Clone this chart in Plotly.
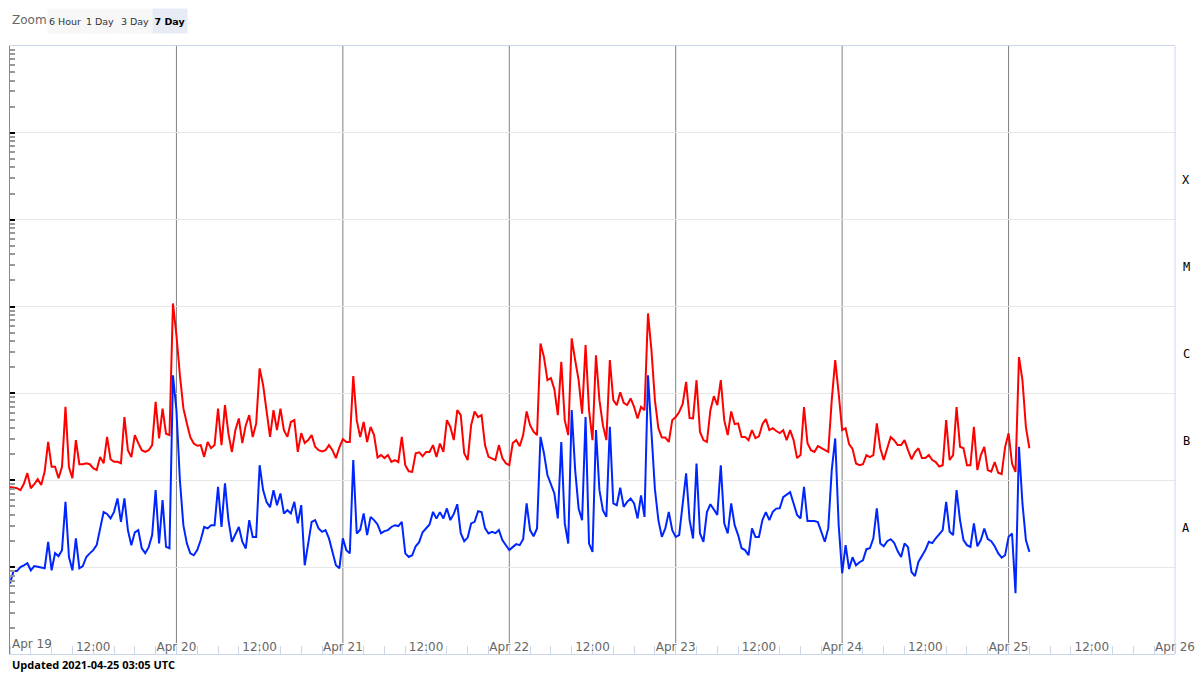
import math
import pandas as pd
import plotly.graph_objects as go

# ---------------- data ----------------
start_time = "2021-04-19 00:00"
cadence = "30min"

# GOES long channel 0.1-0.8 nm (W/m^2)
long_flux = [
    8.4e-8, 8.3e-8, 8.1e-8, 7.7e-8, 9.1e-8, 1.21e-7, 8.1e-8, 9.0e-8, 1.03e-7, 8.8e-8,
    1.26e-7, 2.77e-7, 1.43e-7, 1.43e-7, 1.06e-7, 1.43e-7, 7.01e-7, 1.42e-7, 1.06e-7, 2.90e-7,
    1.53e-7, 1.53e-7, 1.57e-7, 1.53e-7, 1.38e-7, 1.31e-7, 1.86e-7, 1.57e-7, 3.16e-7, 1.75e-7,
    1.63e-7, 1.63e-7, 1.57e-7, 5.34e-7, 2.22e-7, 1.85e-7, 3.31e-7, 2.68e-7, 2.22e-7, 2.12e-7,
    2.22e-7, 2.54e-7, 7.99e-7, 3.03e-7, 6.70e-7, 3.44e-7, 3.31e-7, 1.086e-5, 4.69e-6, 1.62e-6,
    6.77e-7, 4.53e-7, 3.14e-7, 2.65e-7, 2.50e-7, 2.54e-7, 1.86e-7, 2.76e-7, 2.34e-7, 2.54e-7,
    6.70e-7, 2.54e-7, 7.33e-7, 3.44e-7, 2.12e-7, 3.78e-7, 5.15e-7, 2.68e-7, 4.31e-7, 5.62e-7,
    3.14e-7, 4.52e-7, 1.94e-6, 1.25e-6, 6.42e-7, 3.16e-7, 6.42e-7, 3.78e-7, 6.70e-7, 3.78e-7,
    3.16e-7, 4.69e-7, 4.92e-7, 2.12e-7, 3.49e-7, 2.68e-7, 2.90e-7, 3.31e-7, 2.43e-7, 2.22e-7,
    2.15e-7, 2.22e-7, 2.54e-7, 2.22e-7, 1.80e-7, 2.40e-7, 2.98e-7, 2.76e-7, 2.76e-7, 1.58e-6,
    4.92e-7, 3.14e-7, 4.69e-7, 2.76e-7, 4.12e-7, 3.31e-7, 1.83e-7, 1.95e-7, 1.80e-7, 1.95e-7,
    1.63e-7, 1.71e-7, 1.62e-7, 3.16e-7, 1.49e-7, 1.27e-7, 1.25e-7, 2.05e-7, 2.10e-7, 1.89e-7,
    2.12e-7, 2.12e-7, 2.54e-7, 1.86e-7, 2.65e-7, 2.12e-7, 4.92e-7, 4.12e-7, 2.90e-7, 6.42e-7,
    5.62e-7, 2.05e-7, 1.71e-7, 4.31e-7, 6.20e-7, 5.34e-7, 5.62e-7, 2.54e-7, 1.86e-7, 1.80e-7,
    1.71e-7, 2.54e-7, 1.80e-7, 1.57e-7, 1.49e-7, 2.68e-7, 2.90e-7, 2.47e-7, 3.31e-7, 6.20e-7,
    4.31e-7, 3.63e-7, 3.31e-7, 3.76e-6, 2.62e-6, 1.42e-6, 1.50e-6, 1.12e-6, 5.62e-7, 2.31e-6,
    4.92e-7, 3.31e-7, 4.30e-6, 2.42e-6, 1.42e-6, 5.86e-7, 3.60e-6, 6.42e-7, 2.90e-7, 2.75e-6,
    8.37e-7, 4.31e-7, 2.90e-7, 2.42e-6, 8.37e-7, 7.33e-7, 1.03e-6, 7.80e-7, 7.33e-7, 8.76e-7,
    7.00e-7, 5.15e-7, 7.00e-7, 6.42e-7, 8.34e-6, 3.15e-6, 8.37e-7, 3.98e-7, 3.10e-7, 3.10e-7,
    2.76e-7, 4.92e-7, 5.34e-7, 6.10e-7, 7.57e-7, 1.36e-6, 5.20e-7, 5.15e-7, 1.42e-6, 3.60e-7,
    2.90e-7, 2.76e-7, 6.42e-7, 9.30e-7, 7.33e-7, 1.42e-6, 4.92e-7, 3.31e-7, 6.20e-7, 4.43e-7,
    4.52e-7, 3.16e-7, 3.16e-7, 2.90e-7, 3.78e-7, 3.06e-7, 3.20e-7, 4.43e-7, 5.06e-7, 3.78e-7,
    3.98e-7, 3.69e-7, 3.49e-7, 3.78e-7, 2.90e-7, 3.78e-7, 2.90e-7, 1.80e-7, 1.95e-7, 6.95e-7,
    2.68e-7, 2.22e-7, 2.12e-7, 2.47e-7, 2.33e-7, 2.22e-7, 2.12e-7, 8.37e-7, 2.42e-6, 9.98e-7,
    3.78e-7, 3.98e-7, 2.61e-7, 2.30e-7, 1.56e-7, 1.49e-7, 1.53e-7, 1.95e-7, 1.85e-7, 1.95e-7,
    4.52e-7, 2.34e-7, 1.71e-7, 2.34e-7, 3.14e-7, 2.90e-7, 2.54e-7, 2.54e-7, 2.90e-7, 2.22e-7,
    1.75e-7, 2.10e-7, 2.34e-7, 1.80e-7, 1.80e-7, 1.95e-7, 1.71e-7, 1.62e-7, 1.44e-7, 1.49e-7,
    4.92e-7, 1.71e-7, 1.95e-7, 6.95e-7, 2.43e-7, 2.34e-7, 1.49e-7, 1.49e-7, 4.12e-7, 1.31e-7,
    1.95e-7, 2.43e-7, 1.31e-7, 1.26e-7, 1.62e-7, 1.22e-7, 1.18e-7, 2.41e-7, 3.47e-7, 1.56e-7,
    1.25e-7, 2.62e-6, 1.42e-6, 4.08e-7, 2.34e-7,
]

# GOES short channel 0.05-0.4 nm (W/m^2)
short_flux = [
    6.5e-9, 9.0e-9, 9.0e-9, 1.00e-8, 1.05e-8, 1.11e-8, 9.2e-9, 1.03e-8, 1.01e-8, 9.9e-9,
    9.7e-9, 1.96e-8, 9.2e-9, 1.45e-8, 1.34e-8, 1.57e-8, 5.65e-8, 1.31e-8, 9.2e-9, 2.14e-8,
    9.7e-9, 1.03e-8, 1.31e-8, 1.44e-8, 1.57e-8, 1.79e-8, 2.79e-8, 4.30e-8, 4.10e-8, 3.64e-8,
    4.33e-8, 6.18e-8, 3.32e-8, 6.18e-8, 2.67e-8, 1.79e-8, 2.52e-8, 2.67e-8, 1.65e-8, 1.45e-8,
    1.70e-8, 2.34e-8, 7.70e-8, 1.87e-8, 5.90e-8, 1.71e-8, 1.65e-8, 1.62e-6, 6.40e-7, 1.00e-7,
    3.04e-8, 1.88e-8, 1.44e-8, 1.37e-8, 1.57e-8, 2.05e-8, 2.90e-8, 2.79e-8, 3.04e-8, 3.04e-8,
    8.40e-8, 2.91e-8, 9.20e-8, 3.48e-8, 1.96e-8, 2.34e-8, 2.90e-8, 1.96e-8, 1.64e-8, 3.48e-8,
    2.23e-8, 2.23e-8, 1.49e-7, 7.70e-8, 5.60e-8, 4.90e-8, 7.70e-8, 5.17e-8, 7.06e-8, 4.15e-8,
    4.53e-8, 4.15e-8, 5.65e-8, 3.19e-8, 5.17e-8, 1.05e-8, 1.87e-8, 3.32e-8, 3.48e-8, 2.79e-8,
    2.55e-8, 2.67e-8, 2.14e-8, 1.44e-8, 1.05e-8, 9.7e-9, 2.15e-8, 1.57e-8, 1.44e-8, 1.71e-7,
    2.44e-8, 2.70e-8, 4.15e-8, 2.34e-8, 3.79e-8, 3.48e-8, 3.10e-8, 2.46e-8, 2.60e-8, 2.67e-8,
    2.90e-8, 3.04e-8, 2.97e-8, 3.32e-8, 1.44e-8, 1.31e-8, 1.37e-8, 1.74e-8, 1.94e-8, 2.52e-8,
    2.79e-8, 3.10e-8, 4.33e-8, 3.62e-8, 4.30e-8, 3.64e-8, 4.74e-8, 3.48e-8, 4.10e-8, 5.30e-8,
    2.46e-8, 1.99e-8, 2.19e-8, 3.19e-8, 3.32e-8, 4.40e-8, 4.30e-8, 2.81e-8, 2.44e-8, 2.55e-8,
    2.46e-8, 2.67e-8, 2.05e-8, 1.79e-8, 1.57e-8, 1.70e-8, 1.84e-8, 1.79e-8, 2.10e-8, 5.41e-8,
    2.67e-8, 2.27e-8, 2.79e-8, 3.16e-7, 2.05e-7, 1.15e-7, 8.80e-8, 7.06e-8, 3.64e-8, 2.76e-7,
    3.19e-8, 1.87e-8, 6.42e-7, 1.31e-7, 4.74e-8, 3.48e-8, 5.34e-7, 1.87e-8, 1.50e-8, 3.78e-7,
    7.70e-8, 4.53e-8, 3.79e-8, 4.12e-7, 5.41e-8, 5.17e-8, 8.20e-8, 4.94e-8, 5.65e-8, 6.18e-8,
    5.41e-8, 3.64e-8, 6.70e-8, 3.79e-8, 1.62e-6, 3.78e-7, 7.90e-8, 3.48e-8, 2.23e-8, 2.79e-8,
    4.33e-8, 2.67e-8, 2.23e-8, 2.34e-8, 5.50e-8, 1.20e-7, 3.48e-8, 2.14e-8, 1.56e-7, 2.44e-8,
    1.96e-8, 4.30e-8, 5.30e-8, 4.53e-8, 4.00e-8, 1.49e-7, 3.19e-8, 2.44e-8, 5.41e-8, 3.04e-8,
    2.34e-8, 1.65e-8, 1.57e-8, 1.37e-8, 2.79e-8, 2.23e-8, 2.23e-8, 3.48e-8, 4.30e-8, 3.48e-8,
    4.33e-8, 4.72e-8, 4.77e-8, 6.40e-8, 6.90e-8, 7.30e-8, 5.41e-8, 3.98e-8, 3.64e-8, 8.40e-8,
    3.39e-8, 3.39e-8, 3.39e-8, 3.30e-8, 2.60e-8, 1.96e-8, 2.81e-8, 1.31e-7, 3.03e-7, 3.04e-8,
    8.5e-9, 1.79e-8, 9.5e-9, 1.30e-8, 1.05e-8, 1.14e-8, 1.20e-8, 1.61e-8, 1.65e-8, 2.15e-8,
    4.74e-8, 1.87e-8, 1.74e-8, 1.99e-8, 2.10e-8, 1.91e-8, 1.53e-8, 1.31e-8, 1.87e-8, 1.70e-8,
    8.8e-9, 7.9e-9, 1.15e-8, 1.37e-8, 1.57e-8, 1.96e-8, 1.89e-8, 2.15e-8, 2.43e-8, 2.67e-8,
    5.65e-8, 2.55e-8, 2.34e-8, 7.70e-8, 3.48e-8, 2.05e-8, 1.79e-8, 1.71e-8, 3.19e-8, 1.74e-8,
    2.05e-8, 2.79e-8, 2.10e-8, 1.99e-8, 1.74e-8, 1.45e-8, 1.29e-8, 1.37e-8, 2.23e-8, 2.44e-8,
    5.0e-9, 2.43e-7, 5.41e-8, 2.05e-8, 1.50e-8,
]

flare_classes = ["A", "B", "C", "M", "X"]
class_floor = [1e-8, 1e-7, 1e-6, 1e-5, 1e-4]

x_start = "2021-04-19 00:00"
x_end = "2021-04-26 00:00"
day_marks = ["2021-04-20", "2021-04-21", "2021-04-22", "2021-04-23", "2021-04-24", "2021-04-25"]
tick_labels = ["Apr 19", "12:00", "Apr 20", "12:00", "Apr 21", "12:00", "Apr 22", "12:00",
               "Apr 23", "12:00", "Apr 24", "12:00", "Apr 25", "12:00", "Apr 26"]
zoom_buttons = ["6 Hour", "1 Day", "3 Day", "7 Day"]
active_button = "7 Day"
updated_text = "Updated 2021-04-25 03:05 UTC"

# ---------------- figure ----------------
W, H = 1200, 675
ML, MR, MT, MB = 10, 25, 46, 21
plot_w = W - ML - MR
plot_h = H - MT - MB

times = pd.date_range(start_time, periods=len(long_flux), freq=cadence)
tick_times = pd.date_range(x_start, x_end, freq="12h")
minor_times = pd.date_range(x_start, x_end, freq="3h")

fig = go.Figure()
fig.add_trace(go.Scatter(x=times, y=long_flux, mode="lines", name="0.1-0.8 nm",
                         line=dict(color="#ff0000", width=2)))
fig.add_trace(go.Scatter(x=times, y=short_flux, mode="lines", name="0.05-0.4 nm",
                         line=dict(color="#0026ff", width=2)))

fig.update_layout(
    width=W, height=H,
    margin=dict(l=ML, r=MR, t=MT, b=MB, autoexpand=False),
    paper_bgcolor="white", plot_bgcolor="white",
    showlegend=False,
    font=dict(family="DejaVu Sans", color="#666666"),
)

shown_ticktext = [""] + tick_labels[1:]
fig.update_xaxes(
    type="date", range=[x_start, x_end], automargin=False,
    showgrid=False, zeroline=False,
    showline=True, linecolor="#ccd6eb", linewidth=1, mirror=True,
    tickmode="array", tickvals=tick_times, ticktext=shown_ticktext,
    ticks="", ticklabelposition="inside", ticklabeloverflow="allow",
    tickfont=dict(family="DejaVu Sans", size=12, color="#666666"),
    minor=dict(tickmode="array", tickvals=minor_times, ticks="inside", ticklen=8,
               tickcolor="#ccd6eb", showgrid=False),
)

fig.update_yaxes(
    type="log", range=[-9, -2], automargin=False,
    showgrid=True, gridcolor="#e6e6e6", gridwidth=1, zeroline=False,
    showline=True, linecolor="#888888", linewidth=1,
    dtick=1, ticks="inside", ticklen=5, tickwidth=2, tickcolor="#000000",
    showticklabels=False,
    minor=dict(ticks="inside", ticklen=5, tickcolor="#999999", dtick="D1", showgrid=False),
)

# day separators
for d in day_marks:
    fig.add_shape(type="line", x0=d, x1=d, xref="x", yref="paper", y0=11 / plot_h, y1=1,
                  line=dict(color="#808080", width=1), layer="below")
# right border
fig.add_shape(type="line", x0=1, x1=1, xref="paper", yref="paper", y0=0, y1=1,
              line=dict(color="#ccd6eb", width=1))

# flare class labels on the right
for cls, floor in zip(flare_classes, class_floor):
    fig.add_annotation(x=1, xref="paper", xanchor="center", xshift=11, yshift=-4,
                       y=math.log10(floor) + 0.5, yref="y", text=cls, showarrow=False,
                       font=dict(family="DejaVu Sans Mono", size=12, color="#000000"))

# first date label (left-aligned at the axis start)
fig.add_annotation(x=x_start, xref="x", xanchor="left", y=0, yref="paper", yanchor="bottom",
                   yshift=1, text=tick_labels[0], showarrow=False,
                   font=dict(family="DejaVu Sans", size=12, color="#666666"))

# zoom label and buttons
fig.add_annotation(x=0, xref="paper", xanchor="left", y=1, yref="paper", yanchor="middle",
                   yshift=26, text="Zoom", showarrow=False,
                   font=dict(family="DejaVu Sans", size=12, color="#666666"))
btn_w, btn_h, btn_gap, btn_left, btn_mid = 34, 24, 1, 48, 21
for i, lab in enumerate(zoom_buttons):
    active = lab == active_button
    cx = btn_left + i * (btn_w + btn_gap) + btn_w / 2
    fig.add_annotation(x=(cx - ML) / plot_w, xref="paper", xanchor="center",
                       y=1 + (MT - btn_mid) / plot_h, yref="paper", yanchor="middle",
                       text="<b>%s</b>" % lab if active else lab, showarrow=False,
                       width=btn_w, height=btn_h, borderpad=0,
                       bgcolor="#e6ebf5" if active else "#f7f7f7",
                       font=dict(family="DejaVu Sans", size=9.5,
                                 color="#000000" if active else "#333333"))

fig.add_annotation(x=0, xref="paper", xanchor="left", y=0, yref="paper", yanchor="middle",
                   yshift=-10, text="<b>%s</b>" % updated_text, showarrow=False,
                   font=dict(family="Open Sans", size=11, color="#000000"))

fig.write_html("out.html")
